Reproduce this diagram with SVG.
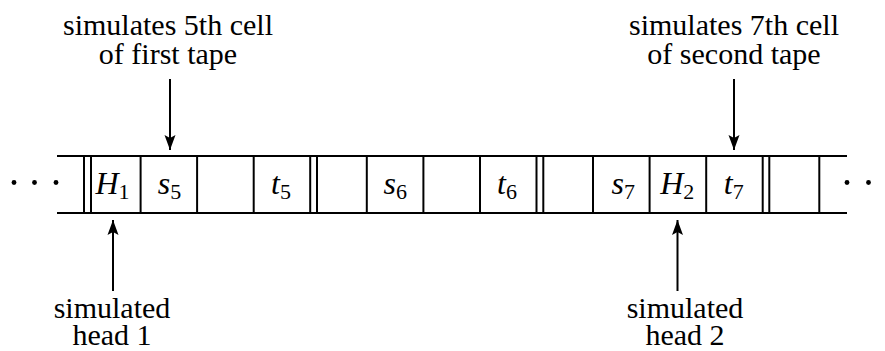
<svg xmlns="http://www.w3.org/2000/svg" width="885" height="351" viewBox="0 0 885 351">
<style>
.ln{stroke:#000;stroke-width:2;fill:none}
.lbl{font-family:"Liberation Serif", "DejaVu Serif", serif;font-size:30px;text-anchor:middle;fill:#000}
.m{font-family:"Liberation Serif", "DejaVu Serif", serif;font-size:32px;font-style:italic;text-anchor:middle;fill:#000}
.sub{font-style:normal;font-size:22px}
.dot{fill:#000}
</style>
<defs>
<marker id="ah" markerWidth="16" markerHeight="12" refX="15" refY="6" orient="auto" markerUnits="userSpaceOnUse">
<path d="M0,0.5 L15,6 L0,11.5 L3,6 Z" fill="#000"/>
</marker>
</defs>
<g id="tape">
<line class="ln" x1="57" y1="156" x2="847" y2="156"/>
<line class="ln" x1="57" y1="213" x2="847" y2="213"/>
<g id="cell-lines">
<line class="ln" x1="84" y1="156" x2="84" y2="213"/>
<line class="ln" x1="91" y1="156" x2="91" y2="213"/>
<line class="ln" x1="140.6" y1="156" x2="140.6" y2="213"/>
<line class="ln" x1="197.1" y1="156" x2="197.1" y2="213"/>
<line class="ln" x1="253.7" y1="156" x2="253.7" y2="213"/>
<line class="ln" x1="310.2" y1="156" x2="310.2" y2="213"/>
<line class="ln" x1="317" y1="156" x2="317" y2="213"/>
<line class="ln" x1="366.8" y1="156" x2="366.8" y2="213"/>
<line class="ln" x1="423.4" y1="156" x2="423.4" y2="213"/>
<line class="ln" x1="480" y1="156" x2="480" y2="213"/>
<line class="ln" x1="536.5" y1="156" x2="536.5" y2="213"/>
<line class="ln" x1="543.3" y1="156" x2="543.3" y2="213"/>
<line class="ln" x1="593" y1="156" x2="593" y2="213"/>
<line class="ln" x1="649.6" y1="156" x2="649.6" y2="213"/>
<line class="ln" x1="706.2" y1="156" x2="706.2" y2="213"/>
<line class="ln" x1="762.7" y1="156" x2="762.7" y2="213"/>
<line class="ln" x1="769.3" y1="156" x2="769.3" y2="213"/>
<line class="ln" x1="819.3" y1="156" x2="819.3" y2="213"/>
</g>
</g>
<g id="dots">
<circle class="dot" cx="14" cy="182.5" r="2.4"/>
<circle class="dot" cx="34.5" cy="182.5" r="2.4"/>
<circle class="dot" cx="56" cy="182.5" r="2.4"/>
<circle class="dot" cx="847" cy="182.5" r="2.4"/>
<circle class="dot" cx="868.5" cy="182.5" r="2.4"/>
</g>
<g id="cells">
<g id="c-H1"><text class="m" x="112.5" y="194">H<tspan class="sub" dy="5">1</tspan></text></g>
<g id="c-s5"><text class="m" x="169.5" y="194">s<tspan class="sub" dy="5">5</tspan></text></g>
<g id="c-t5"><text class="m" x="281" y="194">t<tspan class="sub" dy="5">5</tspan></text></g>
<g id="c-s6"><text class="m" x="395.3" y="194">s<tspan class="sub" dy="5">6</tspan></text></g>
<g id="c-t6"><text class="m" x="507" y="194">t<tspan class="sub" dy="5">6</tspan></text></g>
<g id="c-s7"><text class="m" x="623.3" y="194">s<tspan class="sub" dy="5">7</tspan></text></g>
<g id="c-H2"><text class="m" x="677.3" y="194">H<tspan class="sub" dy="5">2</tspan></text></g>
<g id="c-t7"><text class="m" x="733.8" y="194">t<tspan class="sub" dy="5">7</tspan></text></g>
</g>
<g id="labels">
<g id="label-top1"><text class="lbl" x="168" y="35">simulates 5th cell</text><text class="lbl" x="168" y="64">of first tape</text></g>
<g id="label-top2"><text class="lbl" x="734" y="35">simulates 7th cell</text><text class="lbl" x="734" y="64">of second tape</text></g>
<g id="label-bot1"><text class="lbl" x="112" y="318">simulated</text><text class="lbl" x="112" y="345">head 1</text></g>
<g id="label-bot2"><text class="lbl" x="685" y="318">simulated</text><text class="lbl" x="685" y="345">head 2</text></g>
</g>
<g id="connectors">
<line class="ln" x1="170" y1="79" x2="170" y2="150" marker-end="url(#ah)"/>
<line class="ln" x1="734" y1="79" x2="734" y2="150" marker-end="url(#ah)"/>
<line class="ln" x1="113" y1="291" x2="113" y2="220" marker-end="url(#ah)"/>
<line class="ln" x1="677.5" y1="291" x2="677.5" y2="220" marker-end="url(#ah)"/>
</g>
</svg>
